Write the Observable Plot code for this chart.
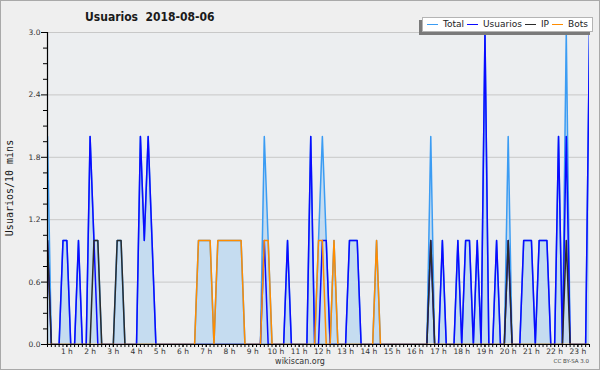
<!DOCTYPE html>
<html>
<head>
<meta charset="utf-8">
<script src="https://cdn.jsdelivr.net/npm/d3@7"></script>
<script src="https://cdn.jsdelivr.net/npm/@observablehq/plot@0.6"></script>
<style>
  html, body { margin: 0; padding: 0; background: #ffffff; }
  #wrap { position: relative; width: 600px; height: 370px; background: #efefef; overflow: hidden; }
  #chart { position: absolute; left: 0; top: 0; }
  #border { position: absolute; left: 0; top: 0; width: 600px; height: 370px; box-sizing: border-box; border: 1px solid #a9a9a9; pointer-events: none; }
  #title { position: absolute; left: 85px; top: 11px; font-family: "DejaVu Sans Condensed", "DejaVu Sans", sans-serif; font-stretch: condensed; font-weight: bold; font-size: 12px; line-height: 1; color: #1a1a1a; white-space: pre; }
  #ytitle { position: absolute; left: 10px; top: 188px; transform: translate(-50%, -50%) rotate(-90deg); font-family: "DejaVu Sans Mono", monospace; font-size: 10px; line-height: 1; color: #1a1a1a; white-space: nowrap; }
  #legend { position: absolute; left: 422px; top: 17px; width: 171px; height: 15px; box-sizing: border-box; background: #ffffff; border: 1px solid #b4b4b4; box-shadow: -3px 3px 0 #7a7a7a; display: flex; align-items: center; padding-left: 4px; font-family: "DejaVu Sans", sans-serif; font-size: 9px; line-height: 1; color: #222; }
  #legend .sw { display: inline-block; width: 11px; height: 1.5px; margin-right: 5px; }
  #legend .lb { margin-right: 3px; white-space: nowrap; }
  #site { position: absolute; left: 300px; top: 357.5px; transform: translateX(-50%); font-family: "DejaVu Sans", sans-serif; font-size: 8px; line-height: 1; color: #333; }
  #cc { position: absolute; right: 11px; top: 359.3px; font-family: "DejaVu Sans", sans-serif; font-size: 5.5px; line-height: 1; color: #444; white-space: nowrap; }
</style>
</head>
<body>
<div id="wrap">
  <div id="chart"></div>
  <div id="title"></div>
  <div id="ytitle"></div>
  <div id="legend"></div>
  <div id="site"></div>
  <div id="cc"></div>
  <div id="border"></div>
</div>
<script>
// ---- Data (10-minute bins, index 0 = 00:00 ... 143 = 23:50) ----
const titleText = "Usuarios  2018-08-06";
const yAxisTitle = "Usuarios/10 mins";
const seriesNames = ["Total", "Usuarios", "IP", "Bots"];
const seriesColors = ["#3b9cf3", "#0a0aff", "#2b2b2b", "#ff8c00"];

const total = [
  0,2,0,0,0,1,1,0,0,1,
  0,0,2,1,1,0,0,0,0,1,
  1,0,0,0,0,2,1,2,1,0,
  0,0,0,0,0,0,0,0,0,0,
  1,1,1,1,0,1,1,1,1,1,
  1,1,0,0,0,0,0,2,1,0,
  0,0,0,1,0,0,0,0,0,2,
  0,1,2,1,0,1,0,0,0,1,
  1,1,0,0,0,0,1,0,0,0,
  0,0,0,0,0,0,0,0,0,0,
  2,0,0,1,0,0,0,1,0,1,
  1,0,1,0,3,0,0,1,0,0,
  2,0,0,0,1,1,1,0,1,1,
  1,0,0,2,0,3,0,0,0,0,
  0,3,0,0
];
const usuarios = [
  0,1,0,0,0,1,1,0,0,1,
  0,0,2,1,0,0,0,0,0,0,
  0,0,0,0,0,2,1,2,1,0,
  0,0,0,0,0,0,0,0,0,0,
  0,0,0,0,0,0,0,0,0,0,
  0,0,0,0,0,0,0,1,0,0,
  0,0,0,1,0,0,0,0,0,2,
  0,0,1,1,0,0,0,0,0,1,
  1,1,0,0,0,0,0,0,0,0,
  0,0,0,0,0,0,0,0,0,0,
  1,0,0,1,0,0,0,1,0,1,
  1,0,1,0,3,0,0,1,0,0,
  1,0,0,0,1,1,1,0,1,1,
  1,0,0,2,0,2,0,0,0,0,
  0,3,0,0
];
const ip = [
  0,1,0,0,0,0,0,0,0,0,
  0,0,0,1,1,0,0,0,0,1,
  1,0,0,0,0,0,0,0,0,0,
  0,0,0,0,0,0,0,0,0,0,
  0,0,0,0,0,0,0,0,0,0,
  0,0,0,0,0,0,0,0,0,0,
  0,0,0,0,0,0,0,0,0,0,
  0,0,0,0,0,0,0,0,0,0,
  0,0,0,0,0,0,0,0,0,0,
  0,0,0,0,0,0,0,0,0,0,
  1,0,0,0,0,0,0,0,0,0,
  0,0,0,0,0,0,0,0,0,0,
  1,0,0,0,0,0,0,0,0,0,
  0,0,0,0,0,1,0,0,0,0,
  0,0,0,0
];
const bots = [
  0,0,0,0,0,0,0,0,0,0,
  0,0,0,0,0,0,0,0,0,0,
  0,0,0,0,0,0,0,0,0,0,
  0,0,0,0,0,0,0,0,0,0,
  1,1,1,1,0,1,1,1,1,1,
  1,1,0,0,0,0,0,1,1,0,
  0,0,0,0,0,0,0,0,0,0,
  0,1,1,0,0,1,0,0,0,0,
  0,0,0,0,0,0,1,0,0,0,
  0,0,0,0,0,0,0,0,0,0,
  0,0,0,0,0,0,0,0,0,0,
  0,0,0,0,0,0,0,0,0,0,
  0,0,0,0,0,0,0,0,0,0,
  0,0,0,0,0,0,0,0,0,0,
  0,0,0,0
];
const hourTicks = [1,2,3,4,5,6,7,8,9,10,11,12,13,14,15,16,17,18,19,20,21,22,23];
const yTicks = [0, 0.6, 1.2, 1.8, 2.4, 3.0];
const yMinorTicks = [0.15,0.3,0.45,0.75,0.9,1.05,1.35,1.5,1.65,1.95,2.1,2.25,2.55,2.7,2.85];

// ---- Build table ----
const binsPerHour = 6;
const data = total.map((v, i) => ({
  t: i / binsPerHour, total: v, usuarios: usuarios[i], ip: ip[i], bots: bots[i]
}));
const xDomain = [1 / binsPerHour, 141 / binsPerHour];
const minorX = data.map(d => d.t).filter(t => t >= xDomain[0] - 1e-9 && t <= xDomain[1] + 1e-9);

const lineOpts = (key, color) => ({x: "t", y: key, stroke: color, strokeWidth: 1.5, clip: true, curve: "linear"});

const chart = Plot.plot({
  width: 600,
  height: 370,
  marginLeft: 47,
  marginRight: 11,
  marginTop: 32,
  marginBottom: 26,
  style: {background: "transparent", fontFamily: "DejaVu Sans, sans-serif", fontSize: "7.5px", color: "#000"},
  x: {domain: xDomain, label: null},
  y: {domain: [0, 3], label: null},
  marks: [
    Plot.frame({fill: "#eceef0", stroke: null}),
    Plot.gridY(yTicks.filter(v => v > 0), {stroke: "#c8c8c8", strokeOpacity: 1, strokeWidth: 1}),
    Plot.areaY(data, {x: "t", y: "total", fill: "#c5dcf0", clip: true}),
    Plot.lineY(data, lineOpts("total", seriesColors[0])),
    Plot.lineY(data, lineOpts("usuarios", seriesColors[1])),
    Plot.lineY(data, lineOpts("ip", seriesColors[2])),
    Plot.lineY(data, lineOpts("bots", seriesColors[3])),
    Plot.ruleX([xDomain[0]], {stroke: "#000", strokeWidth: 1.2}),
    Plot.ruleY([0], {stroke: "#000", strokeWidth: 1.2}),
    Plot.axisY(yTicks, {tickSize: 6, tickPadding: 1, tickFormat: d => d.toFixed(1), fill: "#333", label: null}),
    Plot.axisY(yMinorTicks, {tickSize: 4, tickFormat: () => "", label: null}),
    Plot.axisX(minorX, {tickSize: 3, tickFormat: () => "", label: null}),
    Plot.axisX(hourTicks, {tickSize: 3, tickPadding: 1, tickFormat: h => h + " h", fill: "#333", label: null})
  ]
});
document.getElementById("chart").appendChild(chart);

// ---- Texts & legend ----
document.getElementById("title").textContent = titleText;
document.getElementById("ytitle").textContent = yAxisTitle;
document.getElementById("site").textContent = "wikiscan.org";
document.getElementById("cc").textContent = "CC BY-SA 3.0";
const legend = document.getElementById("legend");
seriesNames.forEach((name, i) => {
  const sw = document.createElement("span");
  sw.className = "sw";
  sw.style.background = seriesColors[i];
  const lb = document.createElement("span");
  lb.className = "lb";
  lb.textContent = name;
  legend.appendChild(sw);
  legend.appendChild(lb);
});
</script>
</body>
</html>
